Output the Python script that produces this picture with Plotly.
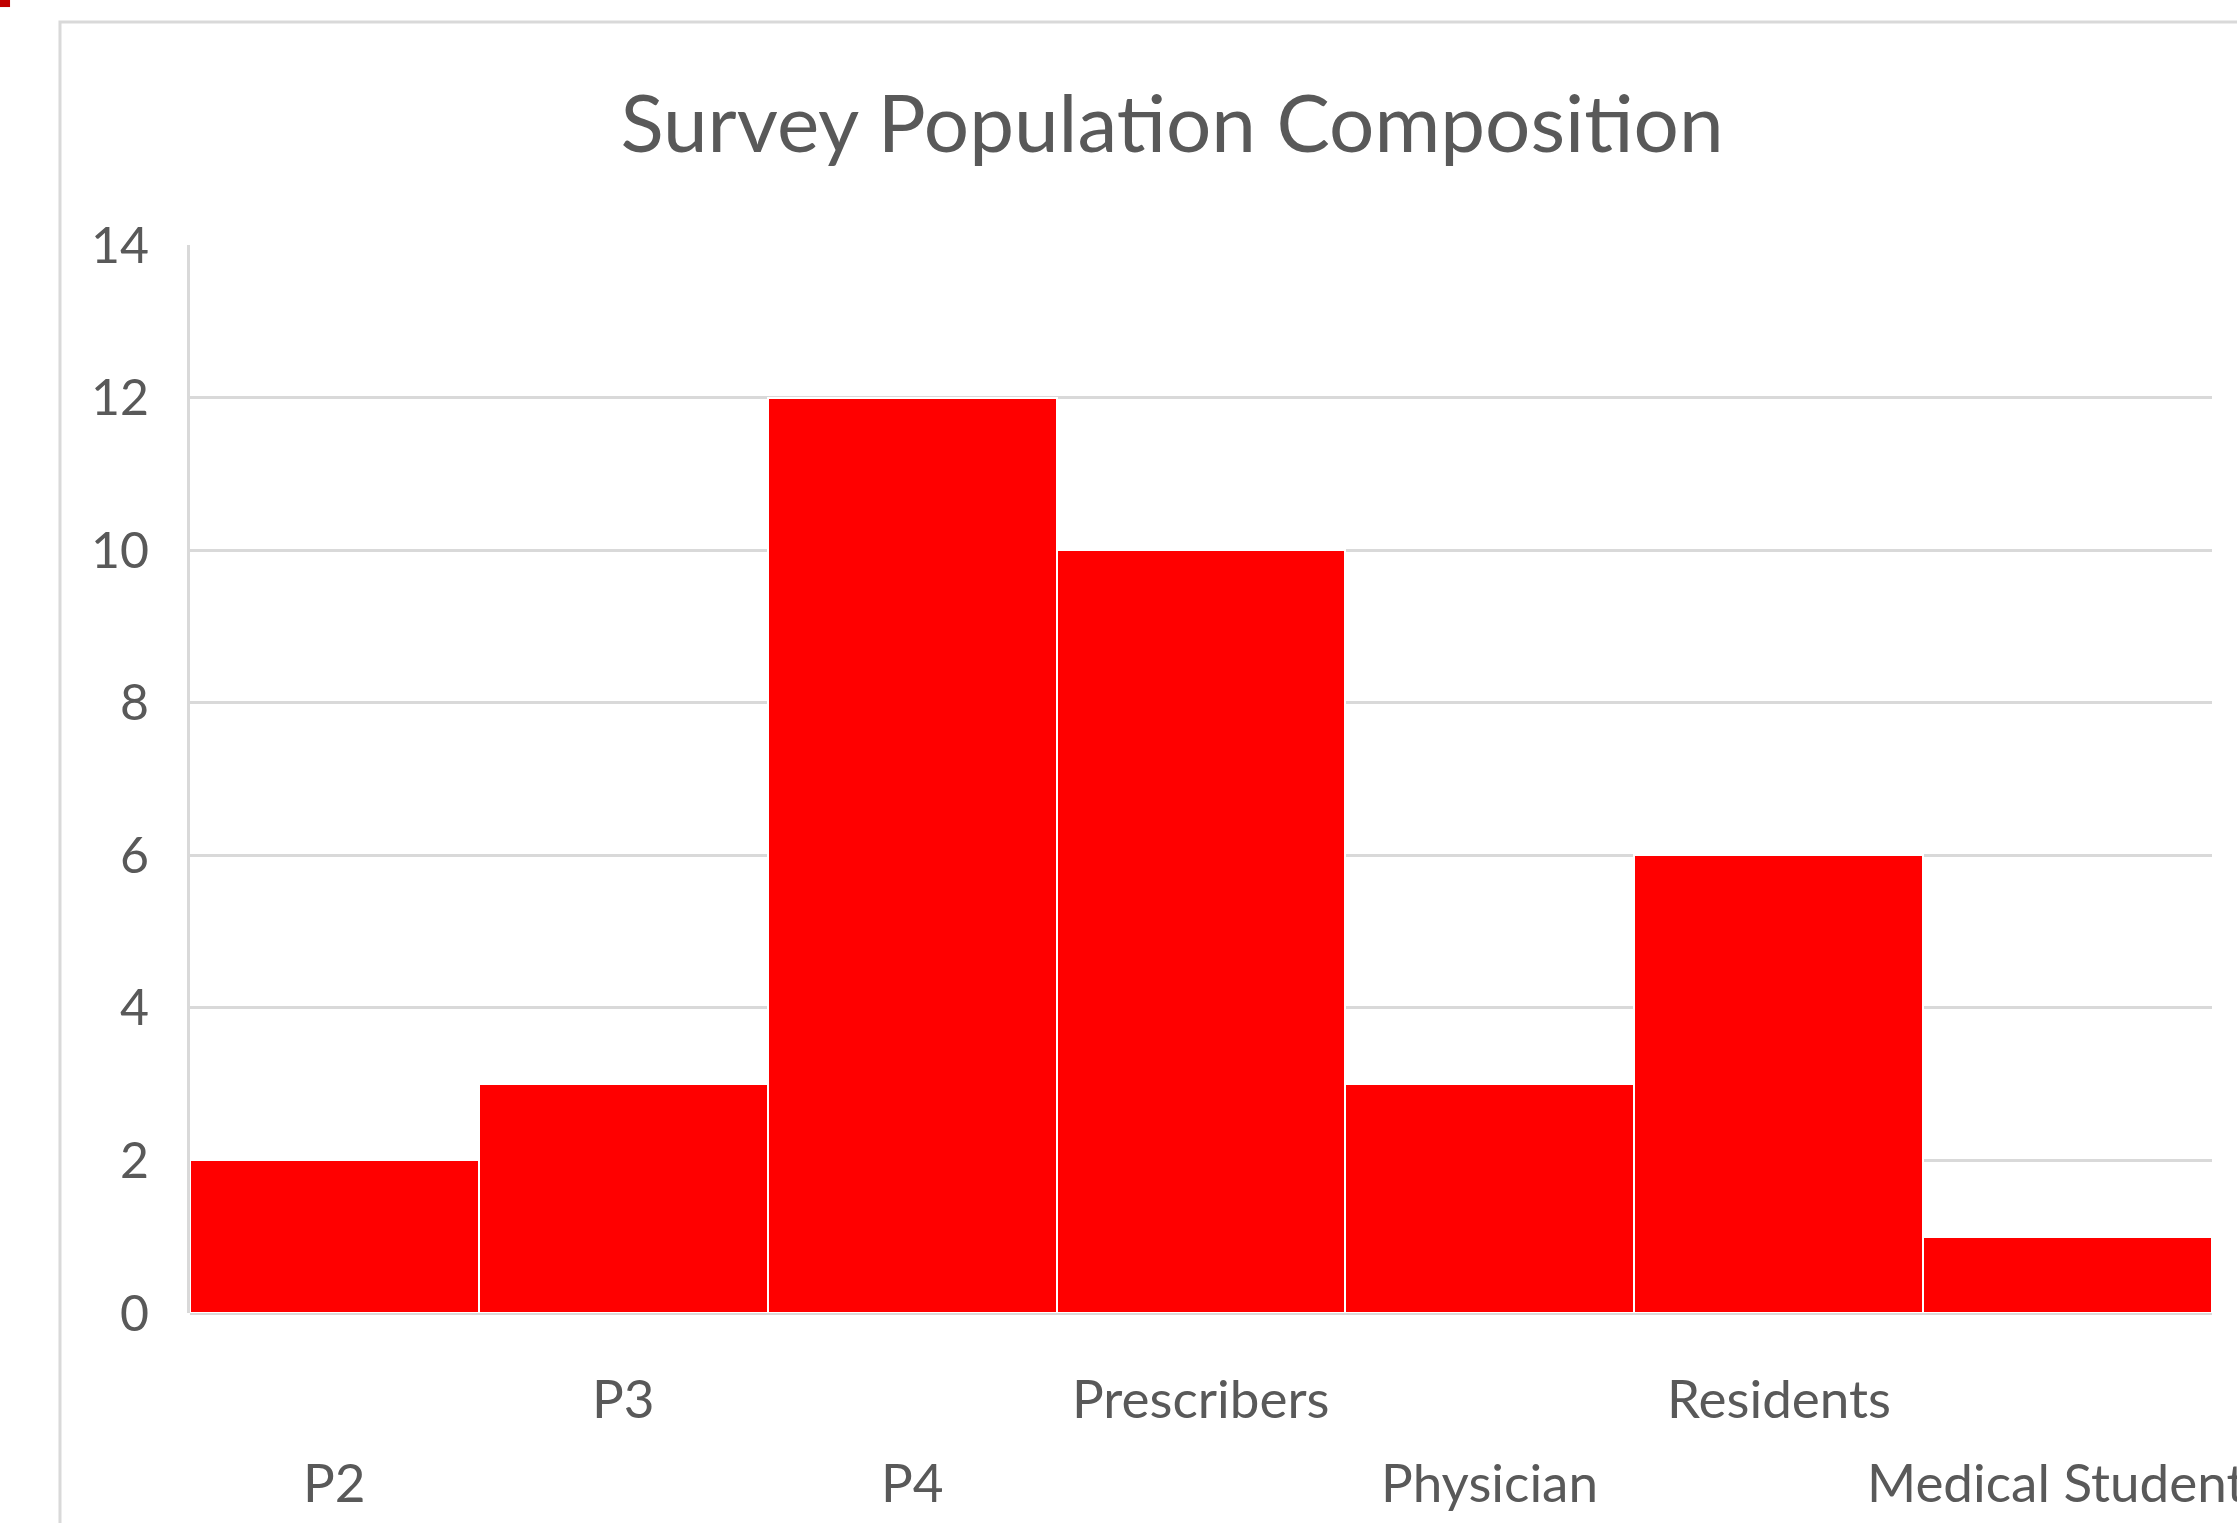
import plotly.graph_objects as go

# Survey respondents by group
categories = ["P2", "P3", "P4", "Prescribers", "Physician", "Residents", "Medical Students"]
counts = [2, 3, 12, 10, 3, 6, 1]
y_ticks = [0, 2, 4, 6, 8, 10, 12, 14]

TEXT = "#595959"
GRID = "#d9d9d9"
FONT = "Lato, sans-serif"

fig = go.Figure(
    go.Bar(
        x=categories,
        y=counts,
        marker=dict(color="#ff0000", line=dict(color="white", width=2)),
        showlegend=False,
    )
)

# Category labels on two staggered rows
for i, cat in enumerate(categories):
    fig.add_annotation(
        x=cat, xref="x", y=0, yref="paper",
        text=cat, showarrow=False,
        yanchor="middle", yshift=-84 if i % 2 else -168,
        font=dict(family=FONT, size=53, color=TEXT),
    )

# Chart-area frame and small corner mark
fig.add_shape(type="rect", xref="paper", yref="paper",
              x0=-0.0643, x1=1.2, y0=-0.5, y1=1.2088,
              line=dict(color=GRID, width=3), fillcolor="rgba(0,0,0,0)", layer="below")
fig.add_shape(type="rect", xref="paper", yref="paper",
              x0=-0.094, x1=-0.089, y0=1.2228, y1=1.23,
              line=dict(width=0), fillcolor="#c00000")

fig.update_layout(
    width=2237, height=1523,
    margin=dict(l=190, r=25, t=245, b=210),
    paper_bgcolor="white", plot_bgcolor="white",
    bargap=0,
    title=dict(
        text="Survey Population Composition",
        x=1172 / 2237, xanchor="center", xref="container",
        y=1 - 124 / 1523, yanchor="middle", yref="container",
        font=dict(family=FONT, size=80, color=TEXT),
    ),
    xaxis=dict(range=[-0.5, len(categories) - 0.5], showticklabels=False,
               showgrid=False, zeroline=False, showline=False),
    yaxis=dict(
        range=[0, 14], tickvals=y_ticks,
        showgrid=True, gridcolor=GRID, gridwidth=3,
        zeroline=True, zerolinecolor=GRID, zerolinewidth=3,
        showline=True, linecolor=GRID, linewidth=3,
        ticks="", ticklabelstandoff=28,
        tickfont=dict(family=FONT, size=50, color=TEXT),
    ),
)

fig.write_html("out.html")
